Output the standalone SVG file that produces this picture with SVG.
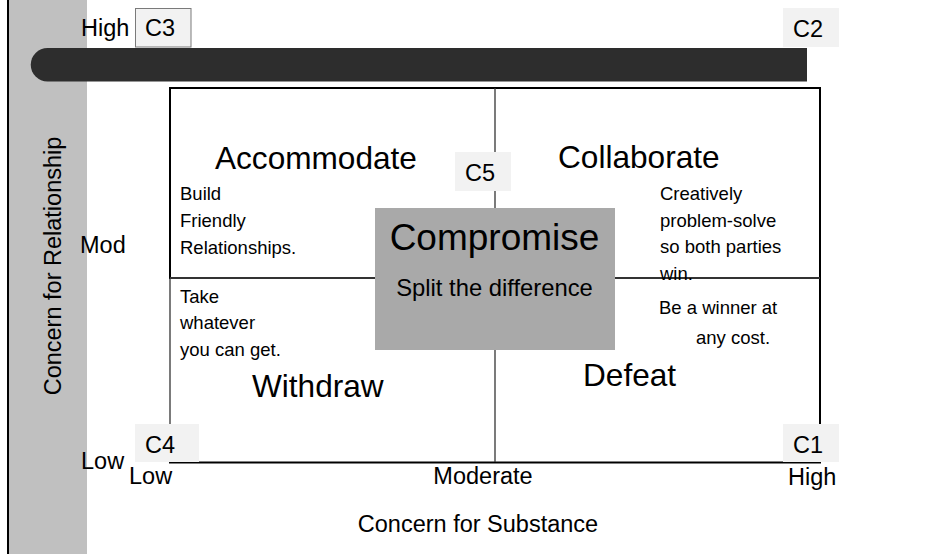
<svg xmlns="http://www.w3.org/2000/svg" width="952" height="554" viewBox="0 0 952 554">
<style>
text{font-family:"Liberation Sans",Arial,sans-serif;fill:#000}
.ax{font-size:23.5px}
.big{font-size:31.6px}
.sm{font-size:18.5px}
.cl{font-size:23.5px}
.cbox{fill:#f2f2f2}
</style>
<rect id="bg" x="0" y="0" width="952" height="554" fill="#fff"/>
<g id="relationship-band">
<rect x="8" y="0" width="79" height="554" fill="#c0c0c0"/>
<line x1="8" y1="0" x2="8" y2="554" stroke="#000" stroke-width="2"/>
<text class="ax" transform="translate(61,266) rotate(-90)" text-anchor="middle">Concern for Relationship</text>
</g>
<g id="top-bar">
<path d="M47.5,48 H807 V81.5 H47.5 A16.75,16.75 0 0 1 47.5,48 Z" fill="#2d2d2d"/>
</g>
<g id="connectors">
<rect x="170" y="88" width="650" height="190" fill="none" stroke="#000" stroke-width="2"/>
<line x1="170" y1="278" x2="170" y2="462" stroke="#222" stroke-width="1.2"/>
<line x1="820" y1="278" x2="820" y2="463" stroke="#000" stroke-width="2"/>
<line x1="169" y1="462.5" x2="821" y2="462.5" stroke="#000" stroke-width="2.2"/>
<line x1="495" y1="88" x2="495" y2="462" stroke="#333" stroke-width="1.3"/>
<line x1="170" y1="278" x2="820" y2="278" stroke="#444" stroke-width="1.3"/>
</g>
<g id="accommodate">
<text class="big" x="215" y="169">Accommodate</text>
<text class="sm" x="180" y="200">Build</text>
<text class="sm" x="180" y="227">Friendly</text>
<text class="sm" x="180" y="254">Relationships.</text>
</g>
<g id="collaborate">
<text class="big" x="558" y="168">Collaborate</text>
<text class="sm" x="660" y="200">Creatively</text>
<text class="sm" x="660" y="227">problem-solve</text>
<text class="sm" x="660" y="253">so both parties</text>
<text class="sm" x="660" y="280">win.</text>
</g>
<g id="withdraw">
<text class="sm" x="180" y="303">Take</text>
<text class="sm" x="180" y="329">whatever</text>
<text class="sm" x="180" y="356">you can get.</text>
<text class="big" x="252" y="397">Withdraw</text>
</g>
<g id="defeat">
<text class="sm" x="659" y="314">Be a winner at</text>
<text class="sm" x="696" y="344">any cost.</text>
<text class="big" x="583" y="386">Defeat</text>
</g>
<g id="compromise">
<rect x="375" y="208" width="240" height="142" fill="#a9a9a9"/>
<text x="494.5" y="250" text-anchor="middle" font-size="37">Compromise</text>
<text x="494.5" y="296" text-anchor="middle" font-size="23.8">Split the difference</text>
</g>
<g id="c3">
<rect x="135.5" y="8.5" width="55.5" height="38.5" class="cbox" stroke="#7a7a7a" stroke-width="1"/>
<text class="cl" x="145" y="36">C3</text>
</g>
<g id="c2">
<rect x="783" y="8" width="56" height="39" class="cbox"/>
<text class="cl" x="793" y="37">C2</text>
</g>
<g id="c5">
<rect x="455" y="152" width="56" height="39" class="cbox"/>
<text class="cl" x="465" y="181">C5</text>
</g>
<g id="c4">
<rect x="135" y="424" width="64" height="38" class="cbox"/>
<text class="cl" x="145" y="453">C4</text>
</g>
<g id="c1">
<rect x="783" y="424" width="56" height="38" class="cbox"/>
<text class="cl" x="793" y="453">C1</text>
</g>
<g id="axis-labels">
<text class="ax" x="81" y="36">High</text>
<text class="ax" x="80" y="253">Mod</text>
<text class="ax" x="81" y="469">Low</text>
<text class="ax" x="129" y="484">Low</text>
<text class="ax" x="483" y="484" text-anchor="middle">Moderate</text>
<text class="ax" x="788" y="485">High</text>
<text class="ax" x="478" y="532" text-anchor="middle">Concern for Substance</text>
</g>
</svg>
